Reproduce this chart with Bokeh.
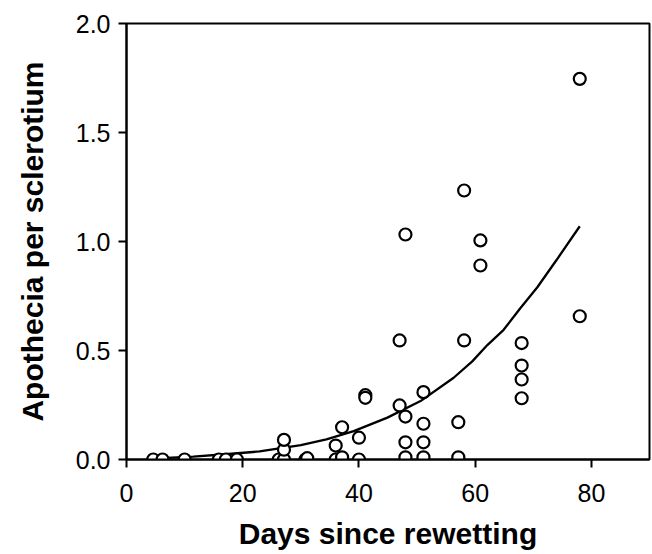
from bokeh.plotting import figure
from bokeh.models import Range1d, FixedTicker, ColumnDataSource
from bokeh.embed import file_html
from bokeh.resources import INLINE

# Observed points (days since rewetting, apothecia per sclerotium)
days = [4.6, 6.2, 10.0, 15.9, 17.1, 19.0, 26.2, 27.1, 27.1, 27.1,
        30.8, 31.1, 36.0, 36.0, 37.1, 37.1, 40.0, 40.0, 41.1, 41.1,
        47.0, 47.0, 48.0, 48.0, 48.0, 48.0, 51.1, 51.1, 51.1, 51.1,
        57.1, 57.1, 58.1, 58.1, 60.9, 60.9, 68.0, 68.0, 68.0, 68.0,
        78.0, 78.0]
apothecia = [0.0, 0.0, 0.0, 0.0, 0.0, 0.0, 0.0, 0.0, 0.045, 0.09,
             0.0, 0.006, 0.064, 0.0, 0.01, 0.148, 0.10, 0.0, 0.295, 0.283,
             0.546, 0.248, 1.032, 0.197, 0.079, 0.01, 0.309, 0.164, 0.079, 0.01,
             0.171, 0.01, 1.234, 0.546, 1.005, 0.89, 0.534, 0.431, 0.367, 0.281,
             1.746, 0.657]

# Fitted curve
curve_days = [5.0, 11.5, 17.0, 22.9, 30.0, 34.4, 39.1, 44.9, 50.6, 56.3,
              59.5, 62.1, 64.9, 67.8, 70.7, 74.0, 78.0]
curve_apothecia = [0.005, 0.013, 0.024, 0.037, 0.066, 0.092, 0.130, 0.192, 0.268, 0.375,
                   0.450, 0.525, 0.595, 0.695, 0.790, 0.915, 1.070]

x_ticks = [0, 20, 40, 60, 80]
y_ticks = [0.0, 0.5, 1.0, 1.5, 2.0]
y_tick_labels = ["0.0", "0.5", "1.0", "1.5", "2.0"]

p = figure(width=652, height=554, output_backend="svg", toolbar_location=None,
           x_range=Range1d(0, 90), y_range=Range1d(0, 2.0),
           min_border_left=126, min_border_right=3, min_border_top=23, min_border_bottom=95)

p.xgrid.visible = False
p.ygrid.visible = False
p.outline_line_color = "black"
p.outline_line_width = 2
p.outline_line_alpha = 1.0
p.background_fill_color = "white"
p.border_fill_color = "white"

p.line(curve_days, curve_apothecia, line_color="black", line_width=2.3)
src = ColumnDataSource(dict(x=days, y=apothecia))
p.scatter("x", "y", source=src, size=12, marker="circle", fill_color="white",
          line_color="black", line_width=2.2)

for ax in (p.xaxis[0], p.yaxis[0]):
    ax.axis_line_color = "black"
    ax.axis_line_width = 2
    ax.major_tick_line_color = "black"
    ax.major_tick_line_width = 2
    ax.major_tick_out = 8
    ax.major_tick_in = 0
    ax.minor_tick_line_color = None
    ax.major_label_text_font = "Liberation Sans"
    ax.major_label_text_font_size = "25px"
    ax.major_label_text_color = "black"
    ax.axis_label_text_font = "Liberation Sans"
    ax.axis_label_text_font_size = "30px"
    ax.axis_label_text_font_style = "bold"
    ax.axis_label_text_color = "black"

p.xaxis.ticker = FixedTicker(ticks=x_ticks)
p.yaxis.ticker = FixedTicker(ticks=y_ticks)
p.yaxis.major_label_overrides = {t: l for t, l in zip(y_ticks, y_tick_labels)}
p.xaxis.axis_label = "Days since rewetting"
p.yaxis.axis_label = "Apothecia per sclerotium"
p.xaxis.major_label_standoff = 16
p.xaxis.axis_label_standoff = 12
p.yaxis.major_label_standoff = 8
p.yaxis.axis_label_standoff = 24

open("out.html", "w").write(file_html(p, INLINE))
